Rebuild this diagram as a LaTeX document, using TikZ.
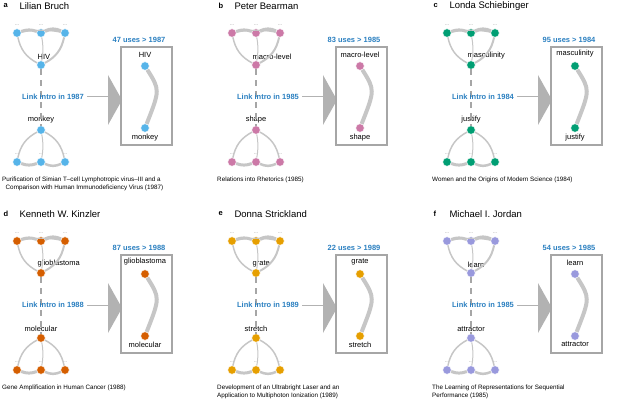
\documentclass[tikz,border=0pt]{standalone}
\usepackage{fontspec}
\setmainfont{Liberation Sans}
\begin{document}
\definecolor{lb}{HTML}{2A7FC0}
\definecolor{ca}{HTML}{56B4E9}
\definecolor{cb}{HTML}{CC79A7}
\definecolor{cc}{HTML}{009E73}
\definecolor{cd}{HTML}{D55E00}
\definecolor{ce}{HTML}{E69F00}
\definecolor{cf}{HTML}{9999DD}
\newcommand\panel[9]{%
\begin{scope}[shift={(#1,#2)}]
\node[anchor=west,font=\bfseries\fontsize{7.5}{8}\selectfont] (#3L) at (0,6) {#3};
\node[anchor=west,font=\fontsize{9.5}{10}\selectfont] (#3N) at (16,6) {#4};
\foreach \i/\x in {1/17,2/41,3/65}{
 \node[dot=#5] (#3t\i) at (\x,33) {};
 \node[dots] (#3u\i) at (\x,25) {...};
 \node[dot=#5] (#3b\i) at (\x,162) {};
 \node[dots] (#3v\i) at (\x,154) {...};
}
\node[dot=#5] (#3h) at (41,65) {};
\node[lab,anchor=south west] (#3hl) at (37,60) {#6};
\node[dot=#5] (#3m) at (41,130) {};
\node[lab,anchor=south] (#3ml) at (41,124) {#7};
\draw[ed,line width=3] (#3t1) to[bend left=20] (#3t2);
\draw[ed,line width=3.5] (#3t2) to[bend left=25] (#3t3);
\draw[ed] (#3t1) to[bend right=25] (#3h);
\draw[ed,line width=2] (#3t3) to[bend left=25] (#3h);
\draw[ed,line width=1] (#3t2) to[bend left=10] (#3h);
\draw[ed,line width=1] (#3t1) to[bend left=10] (#3t3);
\draw[ed] (#3m) to[bend right=25] (#3b1);
\draw[ed,line width=1] (#3m) to[bend left=10] (#3b2);
\draw[ed,line width=1.5] (#3m) to[bend left=25] (#3b3);
\draw[ed,line width=3] (#3b1) to[bend right=20] (#3b2);
\draw[ed,line width=2.5] (#3b2) to[bend right=25] (#3b3);
\draw[gray!70,line width=1.2,dash pattern=on 6pt off 5pt] (#3h) -- (#3m);
\node[blu] (#3li) at (53,97) {Link intro in #8};
\coordinate (#3ta) at (108,75);
\coordinate (#3tb) at (122,100);
\coordinate (#3tc) at (108,125);
\fill[gray!60] (#3ta) -- (#3tb) -- (#3tc) -- cycle;
\draw[gray!60,line width=1] ([xshift=2pt]#3li.east) -- ([xshift=1pt]#3li.east -| #3ta);
\node[blu] (#3us) at (139,40) {#9 uses > #8};
\draw[gray!70,line width=1.5] (121,47) rectangle (172,145);
\node[dot=#5] (#3H) at (145,66) {};
\node[lab,anchor=south] (#3Hl) at (145,58) {#6};
\node[dot=#5] (#3M) at (145,128) {};
\node[lab,anchor=north] (#3Ml) at (145,133) {#7};
\draw[ed,line width=4] (#3H) .. controls (160,90) .. (#3M);
\end{scope}}
\begin{tikzpicture}[x=1pt,y=-1pt,
 dot/.style={circle,fill=#1,draw=white,line width=0.4,inner sep=0,minimum size=8.5pt},
 dots/.style={font=\fontsize{5}{5}\selectfont,text=gray,inner sep=0},
 lab/.style={font=\fontsize{7.5}{8}\selectfont,inner sep=0.5},
 blu/.style={font=\bfseries\fontsize{7.5}{8}\selectfont,text=lb,inner sep=1},
 ed/.style={draw=gray!45,line width=1.5},
 captxt/.style={font=\fontsize{6.3}{7.8}\selectfont,anchor=north west,align=left,inner sep=0}]
\useasboundingbox (0,0) rectangle (640,414);
\panel{0}{0}{a}{Lilian Bruch}{ca}{HIV}{monkey}{1987}{47}
\panel{215}{0}{b}{Peter Bearman}{cb}{macro-level}{shape}{1985}{83}
\panel{430}{0}{c}{Londa Schiebinger}{cc}{masculinity}{justify}{1984}{95}
\panel{0}{208}{d}{Kenneth W. Kinzler}{cd}{glioblastoma}{molecular}{1988}{87}
\panel{215}{208}{e}{Donna Strickland}{ce}{grate}{stretch}{1989}{22}
\panel{430}{208}{f}{Michael I. Jordan}{cf}{learn}{attractor}{1985}{54}
\node[captxt] (ca1) at (2,177) {Purification of Simian T--cell Lymphotropic virus--III and a\\\ \ Comparison with Human Immunodeficiency Virus (1987)};
\node[captxt] (cb1) at (217,177) {Relations into Rhetorics (1985)};
\node[captxt] (cc1) at (432,177) {Women and the Origins of Modern Science (1984)};
\node[captxt] (cd1) at (2,385) {Gene Amplification in Human Cancer (1988)};
\node[captxt] (ce1) at (217,385) {Development of an Ultrabright Laser and an\\Application to Multiphoton Ionization (1989)};
\node[captxt] (cf1) at (432,385) {The Learning of Representations for Sequential\\Performance (1985)};
\end{tikzpicture}
\end{document}
